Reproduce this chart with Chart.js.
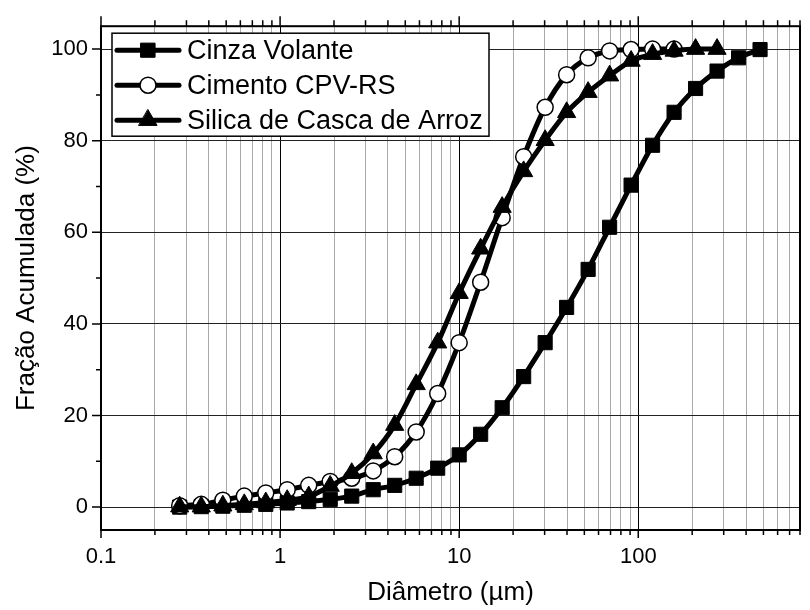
<!DOCTYPE html>
<html lang="pt">
<head>
    <meta charset="UTF-8">
    <title>Fração Acumulada x Diâmetro</title>
    <style>
        html, body {
            margin: 0;
            padding: 0;
            overflow: hidden;
            background: #fff;
        }
        .wrap {
            width: 814px;
            height: 610px;
        }
    </style>
    <script src="https://cdn.jsdelivr.net/npm/chart.js"></script>
</head>
<body>

<div class="wrap"><canvas id="psdChart" width="814" height="610"></canvas></div>

<script>
    // diametros (um) comuns as tres curvas
    const diametros = [0.275, 0.363, 0.479, 0.631, 0.832, 1.096, 1.445, 1.905, 2.512, 3.311, 4.365, 5.754, 7.586, 10,
        13.18, 17.38, 22.91, 30.2, 39.81, 52.48, 69.18, 91.2, 120.2, 158.5, 208.9, 275.4, 363.1, 478.6];

    const cinzaVolante = [0, 0.1, 0.2, 0.4, 0.6, 0.9, 1.2, 1.7, 2.4, 3.8, 4.75, 6.3, 8.5, 11.4,
        15.9, 21.7, 28.5, 35.9, 43.6, 51.9, 61.1, 70.3, 79.0, 86.2, 91.4, 95.2, 98.1, 99.9];
    const cimentoCPV = [0.3, 0.6, 1.5, 2.4, 3.1, 3.8, 4.75, 5.6, 6.3, 7.9, 11.0, 16.4, 24.8, 35.9,
        49.1, 63.2, 76.5, 87.3, 94.4, 98.1, 99.6, 99.9, 100, 100];
    const silicaArroz = [0.1, 0.1, 0.3, 0.6, 1.0, 1.5, 2.3, 4.6, 7.4, 11.7, 17.9, 26.8, 35.9, 46.7,
        56.4, 65.5, 73.3, 80.1, 86.2, 90.6, 94.2, 97.4, 98.9, 99.6, 100, 100];

    const seriesNames = ['Cinza Volante', 'Cimento CPV-RS', 'Silica de Casca de Arroz'];

    const xTicks = [0.1, 0.2, 0.3, 0.4, 0.5, 0.6, 0.7, 0.8, 0.9, 1, 2, 3, 4, 5, 6, 7, 8, 9,
        10, 20, 30, 40, 50, 60, 70, 80, 90, 100, 200, 300, 400, 500, 600, 700, 800];
    const xMajor = [0.1, 1, 10, 100];
    const xTickLabels = ['0.1', '1', '10', '100'];
    const yTicks = [0, 10, 20, 30, 40, 50, 60, 70, 80, 90, 100];
    const yMajor = [0, 20, 40, 60, 80, 100];
    const yTickLabels = ['0', '20', '40', '60', '80', '100'];

    const FONT = 'Liberation Sans, Arial, sans-serif';
    Chart.defaults.font.family = FONT;
    Chart.defaults.color = '#000';

    const toPoints = vals => vals.map((v, i) => ({ x: diametros[i], y: v }));

    const markers = [
        { style: 'rect', radius: 10, fill: '#000', border: 1 },
        { style: 'circle', radius: 8, fill: '#fff', border: 1.5 },
        { style: 'triangle', radius: 10.5, fill: '#000', border: 1 }
    ];

    function drawMarker(ctx, m, x, y) {
        ctx.save();
        ctx.fillStyle = m.fill;
        ctx.strokeStyle = '#000';
        ctx.lineWidth = m.border;
        ctx.beginPath();
        if (m.style === 'rect') {
            const s = Math.SQRT1_2 * m.radius;
            ctx.rect(x - s, y - s, 2 * s, 2 * s);
        } else if (m.style === 'circle') {
            ctx.arc(x, y, m.radius, 0, Math.PI * 2);
        } else {
            for (let k = 0; k < 3; k++) {
                const a = k * 2 * Math.PI / 3;
                const px = x + Math.sin(a) * m.radius;
                const py = y - Math.cos(a) * m.radius;
                if (k === 0) ctx.moveTo(px, py); else ctx.lineTo(px, py);
            }
            ctx.closePath();
        }
        ctx.fill();
        ctx.stroke();
        ctx.restore();
    }

    // moldura e marcas dos eixos
    const framePlugin = {
        id: 'frame',
        afterDatasetsDraw(chart) {
            const { ctx, chartArea: a, scales: { x, y } } = chart;
            ctx.save();
            ctx.strokeStyle = '#000';
            ctx.lineWidth = 1.5;
            ctx.beginPath();
            xTicks.forEach(v => {
                const px = x.getPixelForValue(v);
                const big = xMajor.includes(v);
                ctx.moveTo(px, a.bottom);
                ctx.lineTo(px, a.bottom + (big ? 8 : 5));
                ctx.moveTo(px, a.top);
                ctx.lineTo(px, a.top - (big ? 10 : 6));
            });
            yTicks.forEach(v => {
                const py = y.getPixelForValue(v);
                const big = yMajor.includes(v);
                ctx.moveTo(a.left, py);
                ctx.lineTo(a.left - (big ? 9 : 5), py);
            });
            ctx.stroke();
            ctx.lineWidth = 2;
            ctx.strokeRect(a.left, a.top, a.right - a.left, a.bottom - a.top);
            ctx.restore();
        }
    };

    // legenda no estilo linha + simbolo
    const lineLegend = {
        id: 'lineLegend',
        afterDraw(chart) {
            const ctx = chart.ctx;
            const a = chart.chartArea;
            const bx = a.left + 11, by = a.top + 7, bw = 377, bh = 103;
            ctx.save();
            ctx.fillStyle = '#fff';
            ctx.fillRect(bx, by, bw, bh);
            ctx.strokeStyle = '#000';
            ctx.lineWidth = 1.5;
            ctx.strokeRect(bx, by, bw, bh);
            seriesNames.forEach((name, i) => {
                const ry = by + 17 + i * 35;
                ctx.strokeStyle = '#000';
                ctx.lineWidth = 5;
                ctx.lineCap = 'round';
                ctx.beginPath();
                ctx.moveTo(bx + 5, ry);
                ctx.lineTo(bx + 67, ry);
                ctx.stroke();
                drawMarker(ctx, markers[i], bx + 36, ry);
                ctx.fillStyle = '#000';
                ctx.font = '27px ' + FONT;
                ctx.textBaseline = 'middle';
                ctx.textAlign = 'left';
                ctx.fillText(name, bx + 75, ry + 1.5);
            });
            ctx.restore();
        }
    };

    const dataSets = [cinzaVolante, cimentoCPV, silicaArroz];

    const ctx = document.getElementById('psdChart').getContext('2d');
    const psdChart = new Chart(ctx, {
        type: 'line',
        data: {
            datasets: dataSets.map((vals, i) => ({
                label: seriesNames[i],
                data: toPoints(vals),
                order: 2 - i,
                borderColor: '#000',
                borderWidth: 5,
                cubicInterpolationMode: 'monotone',
                pointStyle: markers[i].style,
                pointRadius: markers[i].radius,
                pointBackgroundColor: markers[i].fill,
                pointBorderColor: '#000',
                pointBorderWidth: markers[i].border,
                fill: false
            }))
        },
        options: {
            responsive: false,
            animation: false,
            layout: { padding: { left: 0, top: 20, right: 3, bottom: 0 } },
            plugins: {
                legend: { display: false },
                tooltip: { enabled: false }
            },
            scales: {
                x: {
                    type: 'logarithmic',
                    position: 'bottom',
                    min: 0.1,
                    max: 800,
                    afterBuildTicks: s => { s.ticks = xTicks.map(v => ({ value: v })); },
                    afterFit: s => { s.height = 80; },
                    ticks: {
                        autoSkip: false,
                        maxRotation: 0,
                        padding: 14,
                        font: { size: 22 },
                        callback: v => {
                            const k = xMajor.indexOf(v);
                            return k >= 0 ? xTickLabels[k] : '';
                        }
                    },
                    grid: {
                        drawTicks: false,
                        lineWidth: 1,
                        color: c => xMajor.includes(c.tick.value) ? '#000' : '#aaaaaa'
                    },
                    border: { display: false },
                    title: {
                        display: true,
                        text: 'Diâmetro (µm)',
                        font: { size: 26 },
                        padding: { top: 0, bottom: 2 }
                    }
                },
                y: {
                    min: -5,
                    max: 105,
                    afterBuildTicks: s => { s.ticks = yTicks.map(v => ({ value: v })); },
                    afterFit: s => { s.width = 101; },
                    ticks: {
                        padding: 13,
                        font: { size: 22 },
                        callback: v => {
                            const k = yMajor.indexOf(v);
                            return k >= 0 ? yTickLabels[k] : '';
                        }
                    },
                    grid: {
                        drawTicks: false,
                        lineWidth: 1,
                        color: c => yMajor.includes(c.tick.value) ? '#222' : 'rgba(0,0,0,0)'
                    },
                    border: { display: false },
                    title: {
                        display: true,
                        text: 'Fração Acumulada (%)',
                        font: { size: 26 },
                        padding: { top: 11, bottom: 0 }
                    }
                }
            }
        },
        plugins: [framePlugin, lineLegend]
    });
</script>

</body>
</html>
